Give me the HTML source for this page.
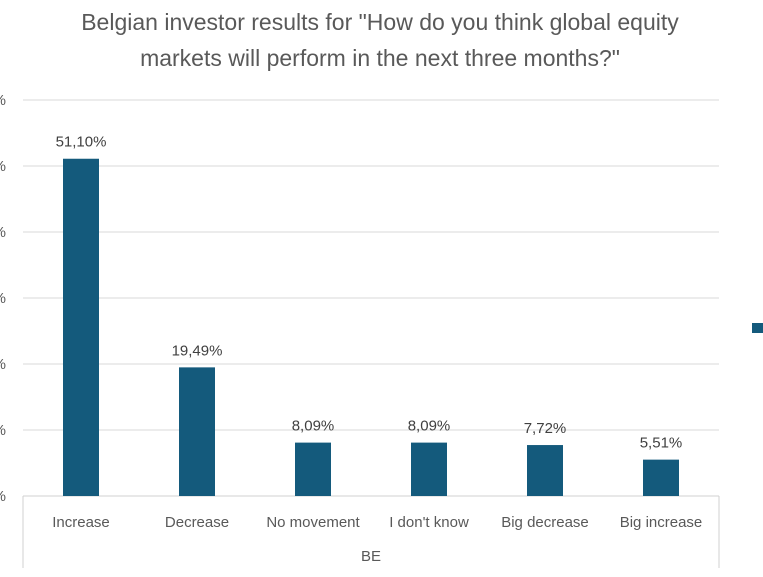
<!DOCTYPE html>
<html><head><meta charset="utf-8"><style>
body{margin:0;background:#fff;}
svg text{font-family:"Liberation Sans",sans-serif;}
</style></head><body>
<svg width="763" height="572" viewBox="0 0 763 572" id="chart">
<text x="380" y="30" text-anchor="middle" font-size="23" fill="#595959">Belgian investor results for "How do you think global equity</text>
<text x="380" y="66" text-anchor="middle" font-size="23" fill="#595959">markets will perform in the next three months?"</text>
<g id="grid"></g>
<g id="bars"></g>
<line x1="23" y1="496" x2="23" y2="568" stroke="#d0d0d0"/>
<line x1="719" y1="496" x2="719" y2="568" stroke="#d0d0d0"/>
<text x="371" y="561" text-anchor="middle" font-size="15" fill="#595959">BE</text>
<rect x="752" y="323" width="11" height="10" fill="#145a7c"/>
</svg>
<script>
const categories=["Increase","Decrease","No movement","I don't know","Big decrease","Big increase"];
const values=[51.10,19.49,8.09,8.09,7.72,5.51];
const valueLabels=["51,10%","19,49%","8,09%","8,09%","7,72%","5,51%"];
const ticks=[0,10,20,30,40,50,60];
const NS="http://www.w3.org/2000/svg";
const x0=23,x1=719,yBase=496,yTop=100,maxV=60;
const y=v=>yBase-(v/maxV)*(yBase-yTop);
const bw=(x1-x0)/categories.length;
const xc=i=>x0+bw*(i+0.5);
function mk(tag,attrs,parent){const e=document.createElementNS(NS,tag);for(const k in attrs)e.setAttribute(k,attrs[k]);parent.appendChild(e);return e;}
const grid=document.getElementById('grid'),bars=document.getElementById('bars');
ticks.forEach(t=>{
 const l=mk('line',{x1:x0,x2:x1,y1:y(t),y2:y(t),stroke:t===0?'#d0d0d0':'#d9d9d9'},grid);
 
 
 const tx=mk('text',{x:6,y:y(t)+5,'text-anchor':'end','font-size':'15',fill:'#595959'},grid);
 tx.textContent=t+'%';
 
 
});
categories.forEach((c,i)=>{
 const r=mk('rect',{x:xc(i)-18,y:y(values[i]),width:36,height:yBase-y(values[i]),fill:'#145a7c'},bars);
 
 
 const v=mk('text',{x:xc(i),y:y(values[i])-12,'text-anchor':'middle','font-size':'15',fill:'#404040'},bars);
 v.textContent=valueLabels[i];
 
 
 const cl=mk('text',{x:xc(i),y:527,'text-anchor':'middle','font-size':'15',fill:'#595959'},bars);
 cl.textContent=c;
 
 
});
</script>
</body></html>
